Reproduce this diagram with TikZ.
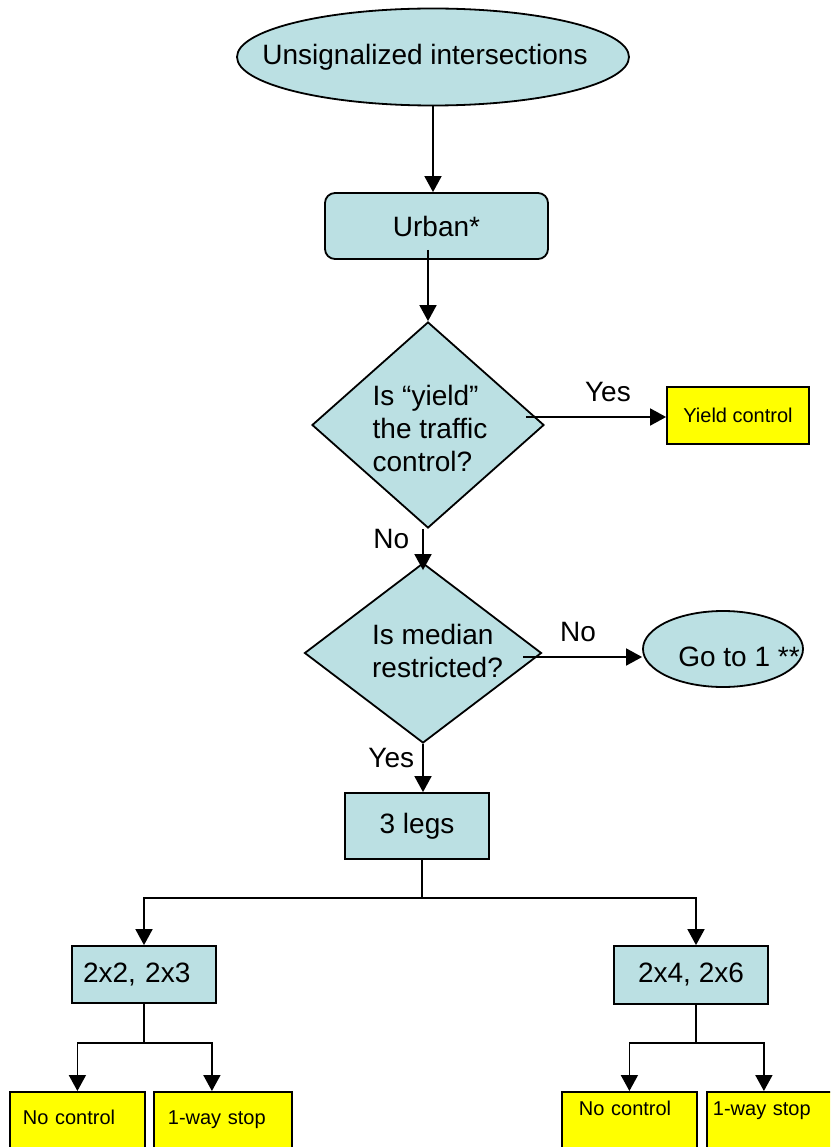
\documentclass[tikz,border=0pt]{standalone}
\usepackage{fontspec}
\setmainfont{Liberation Sans}
\usetikzlibrary{shapes.geometric,arrows.meta,calc}
\definecolor{paleblue}{RGB}{187,224,227}
\definecolor{signyellow}{RGB}{255,255,0}
\begin{document}
\begin{tikzpicture}[x=1pt,y=-1pt,
  big/.style={font=\fontsize{28}{33}\selectfont},
  small/.style={font=\fontsize{20}{24}\selectfont},
  shapebox/.style={draw=black,line width=1.8pt,fill=paleblue,inner sep=0pt},
  term/.style={shapebox,ellipse},
  decision/.style={shapebox,diamond},
  stepbox/.style={shapebox,rectangle,big},
  outcome/.style={draw=black,line width=1.8pt,fill=signyellow,rectangle,small},
  leafbox/.style={outcome,anchor=north west,align=left,text depth=60pt,inner ysep=0pt},
  arr/.style={line width=1.8pt,-{Triangle[width=17pt,length=16pt]}},
  link/.style={line width=1.8pt},
  tag/.style={big,inner sep=0pt}
]
\useasboundingbox (0,0) rectangle (830,1147);
\fill[white] (0,0) rectangle (830,1147);
\clip (0,0) rectangle (830,1147);

% start and first step
\node[term,minimum width=392pt,minimum height=97pt,
      label={[big,xshift=-8pt]center:Unsignalized intersections}] (start) at (433,57) {};
\node[stepbox,rounded corners=10pt,minimum width=223pt,minimum height=66pt] (urban) at (436.5,226) {Urban*};

% decisions
\node[decision,minimum width=232pt,minimum height=206pt,
      label={[big,align=left,xshift=2pt,yshift=-3pt]center:Is “yield”\\the traffic\\control?}] (d1) at (428,425) {};
\node[outcome,minimum width=142pt,minimum height=57pt] (yield) at (738,415.5) {Yield control};

\node[decision,minimum width=237pt,minimum height=180pt,
      label={[big,align=left,xshift=14.5pt,yshift=2.5pt]center:Is median\\restricted?}] (d2) at (423,653) {};
\node[term,minimum width=160pt,minimum height=76pt,
      label={[big,xshift=16pt,yshift=-8pt]center:Go to 1 **}] (go) at (723,649) {};

% leg counts and lane groups
\node[stepbox,minimum width=144pt,minimum height=66pt] (legs) at (417,826) {3 legs};
\node[stepbox,minimum width=144pt,minimum height=57pt,text width=122pt,inner xsep=11pt,align=left] (b23) at (144,974.5) {2x2, 2x3};
\node[stepbox,minimum width=154pt,minimum height=58pt] (b46) at (691,975) {2x4, 2x6};

% outcomes at the bottom
\node[leafbox,inner xsep=13pt,text width=109pt,text height=33pt] (nc1) at (9,1091) {No control};
\node[leafbox,inner xsep=14pt,text width=110pt,text height=33pt] (ws1) at (153,1091) {1-way stop};
\node[leafbox,inner xsep=17pt,text width=101pt,text height=24pt] (nc2) at (561,1091) {No control};
\node[leafbox,inner xsep=6pt,text width=126pt,text height=24pt] (ws2) at (706,1091) {1-way stop};

% connectors
\draw[arr] (start.south) -- (start.south |- urban.north);
\draw[arr] ([yshift=10pt]urban.south -| d1.north) -- (d1.north);

\draw[arr] ([xshift=-19pt,yshift=8pt]d1.east) coordinate (y0) -- (y0 -| yield.west)
  node[tag,pos=0.585,above=14pt] {Yes};
\draw[arr,shorten >=-8pt] (d1.south -| d2.north) -- (d2.north)
  node[tag,pos=0.29,left=13pt] {No};

\draw[arr] ([xshift=-19pt,yshift=-4pt]d2.east) coordinate (n0) -- (n0 -| go.west)
  node[tag,pos=0.46,above=14pt] {No};
\draw[arr] (d2.south) -- (d2.south |- legs.north)
  node[tag,pos=0.3,left=8pt] {Yes};

\draw[link] ([xshift=5pt]legs.south) -- ++(0,38) coordinate (split);
\draw[arr] (split) -| (b23.north);
\draw[arr] (split) -| ([xshift=5pt]b46.north);

\draw[link] (b23.south) -- ++(0,39) coordinate (s1);
\draw[arr] (s1) -| (nc1.north);
\draw[arr] (s1) -| ([xshift=-11pt]ws1.north);

\draw[link] ([xshift=5pt]b46.south) -- ++(0,38) coordinate (s2);
\draw[arr] (s2) -| (nc2.north);
\draw[arr] (s2) -| ([xshift=-12pt]ws2.north);
\end{tikzpicture}
\end{document}
